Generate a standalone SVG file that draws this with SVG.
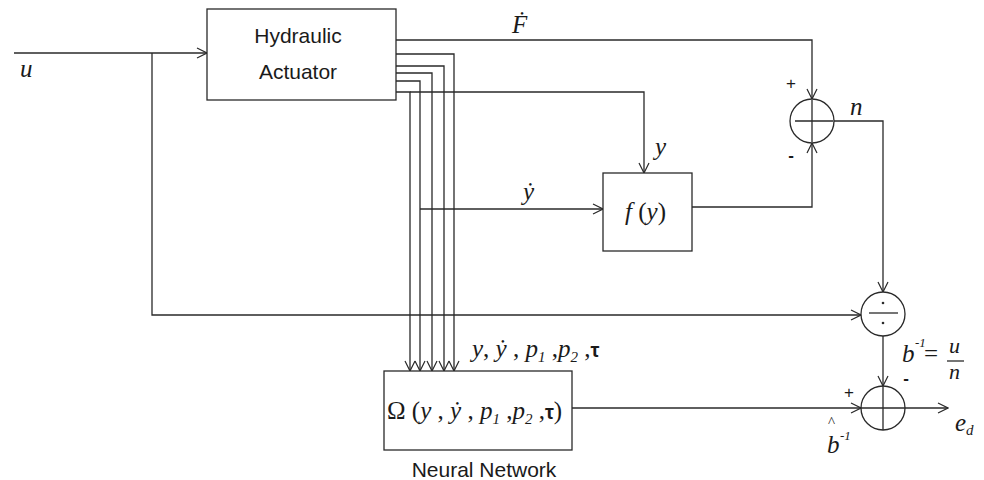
<svg xmlns="http://www.w3.org/2000/svg" width="984" height="480" viewBox="0 0 984 480">
<style>
.ln{fill:none;stroke:#2a2a2a;stroke-width:1.3}
.bx{fill:#fff;stroke:#2a2a2a;stroke-width:1.3}
.sans{font-family:"Liberation Sans",Arial,sans-serif;font-size:21px;fill:#1a1a1a}
.m{font-family:"Liberation Serif","Times New Roman",serif;font-style:italic;font-size:25px;fill:#1a1a1a}
.s{font-family:"Liberation Sans",Arial,sans-serif;font-size:17px;fill:#1a1a1a}
.sub{font-size:15px}
.sup{font-size:13px}
.tau{font-family:"Liberation Sans",Arial,sans-serif;font-style:normal;font-weight:bold;font-size:20px}
</style>
<defs>
<marker id="ar" markerWidth="12" markerHeight="12" refX="11" refY="6" orient="auto" markerUnits="userSpaceOnUse">
<path d="M1,1 L11,6 L1,11" fill="none" stroke="#2a2a2a" stroke-width="1.2"/>
</marker>
</defs>
<rect width="984" height="480" fill="#fff"/>
<g id="connectors">
<path class="ln" d="M14,53 H207" marker-end="url(#ar)"/>
<path class="ln" d="M152,53 V315 H861" marker-end="url(#ar)"/>
<path class="ln" d="M396,40 H812 V99" marker-end="url(#ar)"/>
<path class="ln" d="M396,54 H454 V371" marker-end="url(#ar)"/>
<path class="ln" d="M396,66 H444 V371" marker-end="url(#ar)"/>
<path class="ln" d="M396,73 H432 V371" marker-end="url(#ar)"/>
<path class="ln" d="M396,81 H420 V371" marker-end="url(#ar)"/>
<path class="ln" d="M396,92 H410 V371" marker-end="url(#ar)"/>
<path class="ln" d="M410,92 H644 V173" marker-end="url(#ar)"/>
<path class="ln" d="M420,209 H603" marker-end="url(#ar)"/>
<path class="ln" d="M692,207 H812 V143" marker-end="url(#ar)"/>
<path class="ln" d="M834,121 H883 V292" marker-end="url(#ar)"/>
<path class="ln" d="M883,336 V386" marker-end="url(#ar)"/>
<path class="ln" d="M572,408 H861" marker-end="url(#ar)"/>
<path class="ln" d="M905,408 H948" marker-end="url(#ar)"/>
</g>
<g id="actuator">
<rect class="bx" x="207" y="9" width="189" height="91"/>
<text class="sans" x="298" y="43" text-anchor="middle">Hydraulic</text>
<text class="sans" x="298" y="79" text-anchor="middle">Actuator</text>
</g>
<g id="fy">
<rect class="bx" x="603" y="173" width="89" height="78"/>
<text class="m" x="625" y="220">f<tspan font-style="normal"> (</tspan>y<tspan font-style="normal">)</tspan></text>
</g>
<g id="sum1">
<circle class="bx" cx="812" cy="121" r="22"/>
<path class="ln" d="M795,121 H833 M812,100 V142"/>
<text class="s" x="791" y="89" text-anchor="middle">+</text>
<text class="s" x="791" y="161" text-anchor="middle" font-weight="bold">-</text>
</g>
<g id="divide">
<circle class="bx" cx="883" cy="314" r="22"/>
<path class="ln" d="M869,313 H898"/>
<circle cx="883" cy="303" r="1.3" fill="#2a2a2a"/>
<circle cx="883" cy="323" r="1.3" fill="#2a2a2a"/>
</g>
<g id="sum2">
<circle class="bx" cx="883" cy="408" r="22"/>
<path class="ln" d="M861,408 H905 M883,386 V430"/>
<text class="s" x="849" y="398" text-anchor="middle">+</text>
<text class="s" x="906" y="384" text-anchor="middle" font-weight="bold">-</text>
</g>
<g id="nn">
<rect class="bx" x="384" y="371" width="188" height="79"/>
<text class="m" x="387" y="419"><tspan font-style="normal">Ω (</tspan>y <tspan font-style="normal">,</tspan> ẏ <tspan font-style="normal">,</tspan> p<tspan class="sub" dy="5">1</tspan><tspan dy="-5" font-style="normal"> ,</tspan>p<tspan class="sub" dy="5">2</tspan><tspan dy="-5" font-style="normal"> ,</tspan><tspan class="tau">τ</tspan><tspan font-style="normal">)</tspan></text>
<text class="sans" x="484" y="477" text-anchor="middle">Neural Network</text>
</g>
<g id="labels">
<text class="m" x="20" y="77">u</text>
<text class="m" x="512" y="33">Ḟ</text>
<text class="m" x="655" y="155">y</text>
<text class="m" x="523" y="200">ẏ</text>
<text class="m" x="850" y="115">n</text>
<text class="m" x="472" y="357">y<tspan font-style="normal">, </tspan>ẏ <tspan font-style="normal">,</tspan> p<tspan class="sub" dy="5">1</tspan><tspan dy="-5" font-style="normal"> ,</tspan>p<tspan class="sub" dy="5">2</tspan><tspan dy="-5" font-style="normal"> ,</tspan><tspan class="tau">τ</tspan></text>
<text class="m" x="902" y="362">b<tspan class="sup" x="915" y="347">-1</tspan><tspan x="924" y="362" font-style="normal">=</tspan></text>
<text class="m" x="949" y="353" style="font-size:22px">u<tspan x="949" y="379">n</tspan></text>
<path class="ln" d="M947,361 H964"/>
<text class="m" x="827" y="453">b<tspan style="font-style:normal;font-size:15px" x="828" y="427">^</tspan><tspan class="sup" x="840" y="440">-1</tspan></text>
<text class="m" x="955" y="431">e<tspan class="sub" dy="4">d</tspan></text>
</g>
</svg>
